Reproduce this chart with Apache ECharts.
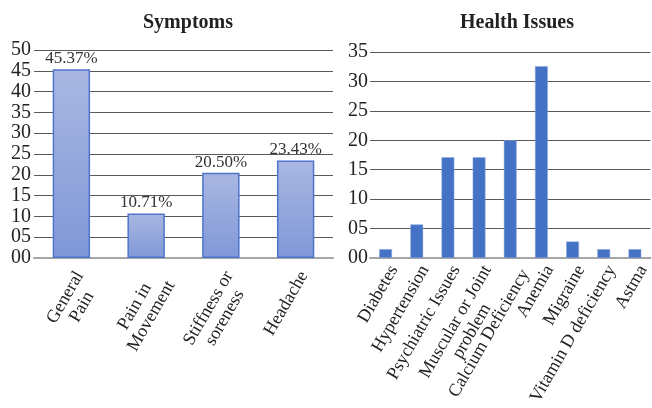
<!DOCTYPE html>
<html>
<head>
<meta charset="utf-8">
<script src="https://cdn.jsdelivr.net/npm/echarts@6/dist/echarts.min.js"></script>
<style>
  html, body { margin: 0; padding: 0; background: #fff; }
  #chart { width: 652px; height: 408px; }
</style>
</head>
<body>
<div id="chart"></div>
<script>
// Symptoms panel (percent of respondents)
const symptomCategories = ['General\nPain', 'Pain in\nMovement', 'Stiffness or\nsoreness', 'Headache'];
const symptomValues = [45.37, 10.71, 20.50, 23.43];

// Health issues panel
const healthCategories = ['Diabetes', 'Hypertension', 'Psychiatric Issues', 'Muscular or Joint\nproblem',
  'Calcium Deficiency', 'Anemia', 'Migraine', 'Vitamin D deficiency', 'Astma'];
const healthValues = [1.5, 5.7, 17.1, 17.1, 20.0, 32.6, 2.8, 1.5, 1.5];

const serif = '"Liberation Serif", "Times New Roman", serif';
const pad2 = v => (v < 10 ? '0' : '') + v;

// centre each line of a wrapped category label; a one-line label that follows a
// two-line neighbour is pushed a little further from the axis so they don't collide
function centredLines(v, idx, list) {
  const prev = (idx > 0 && list[idx - 1]) || '';
  const style = prev.indexOf('\n') >= 0 && v.indexOf('\n') < 0 ? 'p' : 'c';
  return v.split('\n').map(s => '{' + style + '|' + s + '}').join('\n');
}

const gridLine = { show: true, lineStyle: { color: '#5a5a5a', width: 1 } };
const baseLine = { show: true, lineStyle: { color: '#a6a6a6', width: 2 } };

function categoryLabel(margin, list) {
  const txt = { align: 'center', fontFamily: serif, fontSize: 18, color: '#222', lineHeight: 19 };
  return {
    rotate: 60, interval: 0, margin: margin, verticalAlign: 'top',
    formatter: (v, i) => centredLines(v, i, list),
    rich: { c: txt, p: Object.assign({}, txt, { padding: [16, 0, 0, 0] }) }
  };
}

const chart = echarts.init(document.getElementById('chart'), null, { renderer: 'canvas' });
chart.setOption({
  animation: false,
  title: [
    { text: 'Symptoms', left: 183, top: 8, textAlign: 'center',
      textStyle: { fontFamily: serif, fontWeight: 'bold', fontSize: 20, color: '#222' } },
    { text: 'Health Issues', left: 512, top: 8, textAlign: 'center',
      textStyle: { fontFamily: serif, fontWeight: 'bold', fontSize: 20, color: '#222' } }
  ],
  grid: [
    { left: 34, right: 319, top: 50, bottom: 150 },
    { left: 370, right: -6, top: 52, bottom: 150 }
  ],
  xAxis: [
    { type: 'category', gridIndex: 0, data: symptomCategories,
      axisLine: baseLine, axisTick: { show: false }, axisLabel: categoryLabel(10, symptomCategories.map(() => '')) },
    { type: 'category', gridIndex: 1, data: healthCategories,
      axisLine: baseLine, axisTick: { show: false }, axisLabel: categoryLabel(4, healthCategories) }
  ],
  yAxis: [
    { type: 'value', gridIndex: 0, min: 0, max: 50, interval: 5,
      axisLine: { show: false }, axisTick: { show: false }, splitLine: gridLine,
      axisLabel: { formatter: pad2, fontFamily: serif, fontSize: 20, color: '#222', margin: 3 } },
    { type: 'value', gridIndex: 1, min: 0, max: 35, interval: 5,
      axisLine: { show: false }, axisTick: { show: false }, splitLine: gridLine,
      axisLabel: { formatter: pad2, fontFamily: serif, fontSize: 20, color: '#222', margin: 2 } }
  ],
  series: [
    { type: 'bar', xAxisIndex: 0, yAxisIndex: 0, data: symptomValues, barWidth: '50%',
      itemStyle: {
        color: new echarts.graphic.LinearGradient(0, 0, 0, 1, [
          { offset: 0, color: '#a9b7e1' },
          { offset: 1, color: '#8098d8' }
        ]),
        borderColor: '#4f74cc', borderWidth: 1.5
      },
      label: { show: true, position: 'top', distance: 2,
        formatter: p => p.value.toFixed(2) + '%',
        fontFamily: serif, fontSize: 17, color: '#333' } },
    { type: 'bar', xAxisIndex: 1, yAxisIndex: 1, data: healthValues, barWidth: '41%',
      itemStyle: { color: '#4472c4', borderColor: '#8fa9dc', borderWidth: 0.5 } }
  ]
});
</script>
</body>
</html>
